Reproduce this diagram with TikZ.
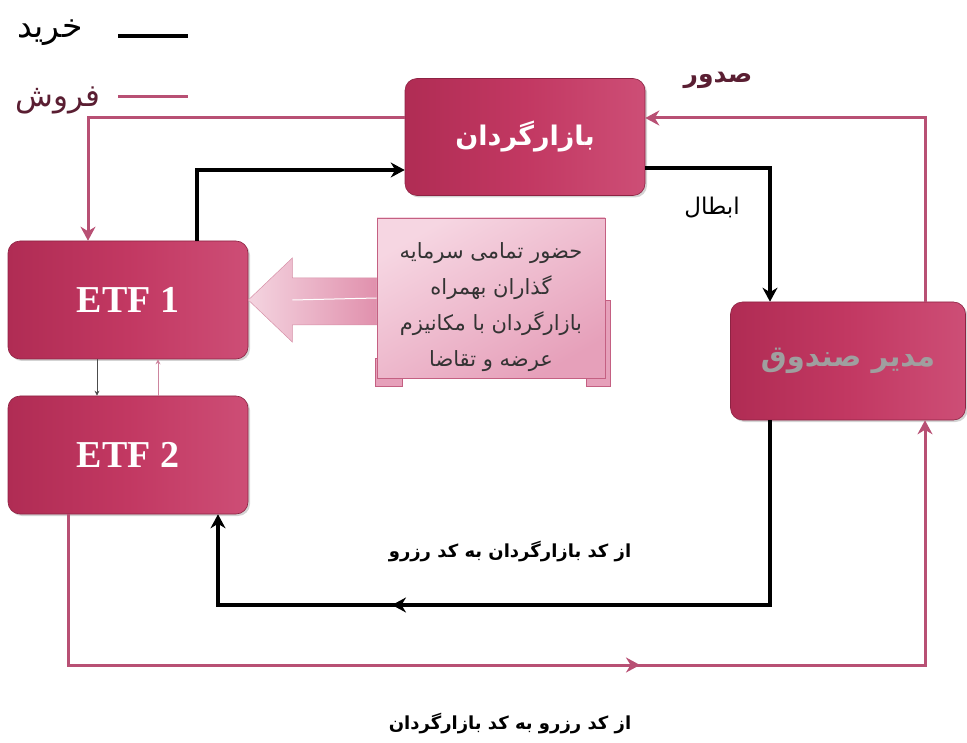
\documentclass[tikz,border=0pt]{standalone}
\usepackage{fontspec}
\setmainfont{Liberation Serif}
\newfontfamily\fa[Script=Arabic]{DejaVu Sans}
\TeXXeTstate=1
\usetikzlibrary{arrows.meta,shadows,calc}
\definecolor{boxc}{RGB}{194,56,98}
\definecolor{boxl}{RGB}{205,78,118}
\definecolor{boxd}{RGB}{176,44,84}
\definecolor{pinkl}{RGB}{184,80,116}
\definecolor{scrl}{RGB}{246,214,226}
\definecolor{scrd}{RGB}{230,160,186}
\definecolor{scrb}{RGB}{196,96,130}
\definecolor{maroon}{RGB}{90,30,50}
\tikzset{
  mainbox/.style={rounded corners=12pt, minimum width=240pt, minimum height=118pt,
    left color=boxd, right color=boxl, middle color=boxc, draw=boxd!80!black, line width=0.6pt,
    drop shadow={shadow xshift=2pt, shadow yshift=-2pt, opacity=0.35}, text=white},
  buy/.style={line width=3.6pt, black},
  sell/.style={line width=3pt, pinkl},
  tip/.style={-{Stealth[length=14pt,width=15pt]}},
}
\begin{document}
\begin{tikzpicture}[x=1pt,y=-1pt]
\useasboundingbox (0,0) rectangle (967,743);
% legend
\node[font=\fa\fontsize{33}{36}\selectfont, text=black] (lbuy) at (50,33) {\beginR خرید\endR};
\node[font=\fa\fontsize{31}{36}\selectfont, text=maroon] (lsell) at (58,100) {\beginR فروش\endR};
\coordinate (b1) at (118,36); \coordinate (b2) at (188,36);
\coordinate (s1) at (118,97); \coordinate (s2) at (188,97);
\draw[buy] (b1) -- (b2);
\draw[sell] (s1) -- (s2);
% boxes
\node[mainbox, minimum width=240pt, minimum height=117pt, font=\fa\bfseries\fontsize{27}{30}\selectfont] (bazar) at (525,137) {\beginR بازارگردان\endR};
\node[mainbox, font=\bfseries\fontsize{38}{40}\selectfont] (etf1) at (128,300) {ETF 1};
\node[mainbox, font=\bfseries\fontsize{38}{40}\selectfont] (etf2) at (128,455) {ETF 2};
\node[mainbox, minimum width=235pt, text=gray!75, font=\fa\bfseries\fontsize{29}{32}\selectfont] (modir) at (848,361) {\beginR مدیر صندوق\endR};
% scroll text box
\fill[scrd, draw=scrb, line width=0.8pt] (375,358) rectangle (402,386);
\fill[scrd, draw=scrb, line width=0.8pt] (586,300) rectangle (610,386);
\node[draw=scrb, line width=0.8pt, left color=scrl, right color=scrd, shading angle=30,
  minimum width=228pt, minimum height=160pt, align=center, text=black!80,
  font=\fa\fontsize{21}{36}\selectfont] (txt) at (491,298)
  {\rule{0pt}{34pt}\beginR حضور تمامی سرمایه\endR\\ \beginR گذاران بهمراه\endR\\ \beginR بازارگردان با مکانیزم\endR\\ \beginR عرضه و تقاضا\endR};
% big arrow from text box to ETF1
\shade[left color=white!55!scrd, right color=scrd!85!boxc, draw=scrb!70, line width=0.5pt]
  (etf1.east) -- ++(44,-42) -- ++(0,20) -- (txt.west |- 0,278) -- (txt.west |- 0,325) -- ($(etf1.east)+(44,25)$) -- ++(0,17) -- cycle;
\draw[white, line width=1pt] ($(etf1.east)+(44,0)$) -- (txt.west);
% connectors
\draw[sell, tip] ([yshift=19pt]bazar.west) -| ([xshift=-40pt]etf1.north);
\draw[buy, tip] ([xshift=69pt]etf1.north) |- ([yshift=-33pt]bazar.west);
\draw[buy, tip] ([yshift=-31pt]bazar.east) -| ([xshift=-78pt]modir.north);
\draw[sell, tip] ([xshift=77pt]modir.north) |- ([yshift=19pt]bazar.east);
\node[text=maroon, font=\fa\bfseries\fontsize{25}{28}\selectfont] (sodur) at (718,80) {\beginR صدور\endR};
\node[text=black, font=\fa\fontsize{23}{26}\selectfont] (ebtal) at (712,208) {\beginR ابطال\endR};
% bottom loops
\coordinate (ba) at ([xshift=-78pt]modir.south);
\coordinate (bb) at ([xshift=90pt]etf2.south);
\coordinate (by) at (0,605);
\draw[buy, tip] (ba) -- (ba |- by) -- (bb |- by) -- (bb);
\coordinate (bm1) at (440,605); \coordinate (bm2) at (392,605);
\draw[buy, tip] (bm1) -- (bm2);
\coordinate (sa) at ([xshift=-60pt]etf2.south);
\coordinate (sb) at ([xshift=77pt]modir.south);
\coordinate (sy) at (0,665);
\draw[sell, tip] (sa) -- (sa |- sy) -- (sb |- sy) -- (sb);
\coordinate (sm1) at (590,665); \coordinate (sm2) at (640,665);
\draw[sell, tip] (sm1) -- (sm2);
\node[text=black, font=\fa\bfseries\fontsize{18}{20}\selectfont] (l1) at (510,552) {\beginR از کد بازارگردان به کد رزرو\endR};
\node[text=black, font=\fa\bfseries\fontsize{18}{20}\selectfont] (l2) at (510,724) {\beginR از کد رزرو به کد بازارگردان\endR};
% small arrows between ETF1 and ETF2
\draw[black!70, line width=1pt, -{Stealth[length=5pt,width=5pt]}] ([xshift=-31pt]etf1.south) -- ([xshift=-31pt]etf2.north);
\draw[pinkl!70, line width=1pt, -{Stealth[length=5pt,width=5pt]}] ([xshift=30pt]etf2.north) -- ([xshift=30pt]etf1.south);
\end{tikzpicture}
\end{document}
